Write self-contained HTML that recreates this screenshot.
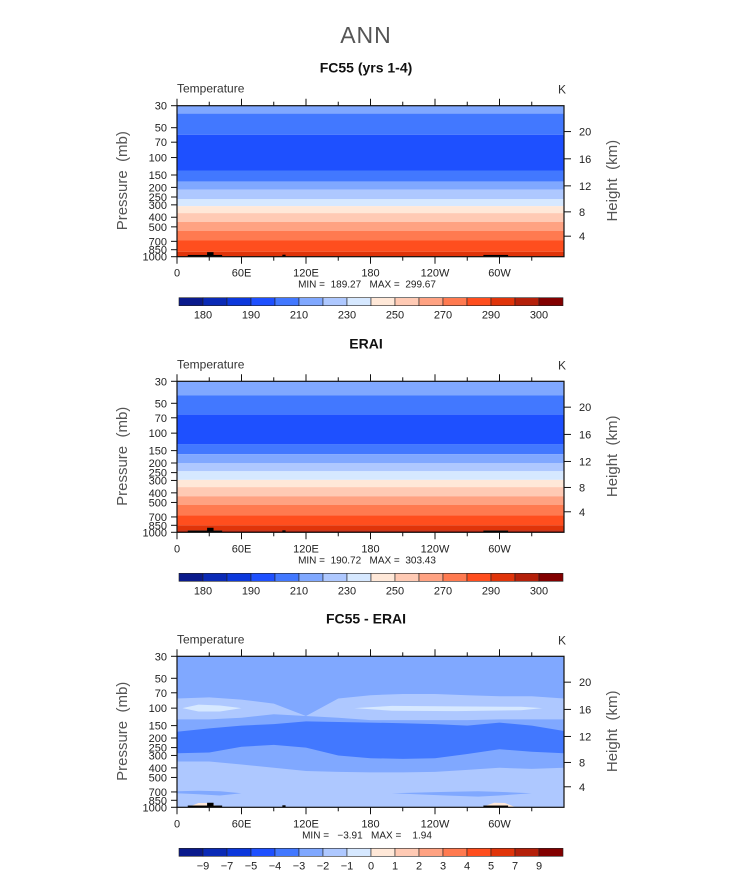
<!DOCTYPE html>
<html><head><meta charset="utf-8">
<style>
html,body{margin:0;padding:0;background:#fff;}
svg{display:block;font-family:"Liberation Sans","DejaVu Sans",sans-serif;}
</style></head>
<body>
<svg id="fig" width="733" height="872" viewBox="0 0 733 872" xmlns="http://www.w3.org/2000/svg">
<text x="366" y="43" font-size="23" text-anchor="middle" fill="#555" font-weight="normal" style="letter-spacing:1px">ANN</text>
</svg>
<script>
// ----- data -----
const palette = ["#0a1a8c","#0a2ab6","#0c38dc","#1e50ff","#4278ff","#80a8ff","#aec8ff","#d6e8ff","#ffe8d8","#ffcab4","#ffa282","#ff7a50","#ff4e1e","#e0340a","#b4200a","#820000"];
const tempLabels = ["180","190","210","230","250","270","290","300"];
const tempLabelSlots = [1,3,5,7,9,11,13,15];
const diffLabels = ["-9","-7","-5","-4","-3","-2","-1","0","1","2","3","4","5","7","9"];
const diffLabelSlots = [1,2,3,4,5,6,7,8,9,10,11,12,13,14,15];
const pTicks = [30,50,70,100,150,200,250,300,400,500,700,850,1000];
const hTicks = ["20","16","12","8","4"];
const hTickP = [54.7,103,193,353,621];
const lonLabels = ["0","60E","120E","180","120W","60W"];
const lonLabelVals = [0,60,120,180,240,300];
// panel 1 (FC55) flat band boundaries (pressure) and colour indices
const p1Bounds = [30,36,59,135,175,211,262,309,363,446,551,686,890,1000];
const p1Colors = [5,4,3,4,5,6,7,8,9,10,11,12,13];
// panel 2 (ERAI)
const p2Bounds = [30,41.7,65,130,163,200,242,296,350,433,531,673,849,957,1000];
const p2Colors = [5,4,3,4,5,6,7,8,9,10,11,12,13,14];
// panel 3 (difference) wavy bands
const lons = [0,30,60,90,120,150,180,210,240,270,300,330,360];
const upTop = [80,78,82,90,120,80,74,72,72,74,76,76,80];
const upBot = [130,130,125,115,120,125,132,132,132,132,130,130,130];
const darkTop = [173,160,150,145,136,138,140,142,145,150,140,150,170];
const darkBot = [285,280,245,235,250,300,320,325,320,290,260,275,285];
const lowTop = [345,345,370,400,430,440,445,445,440,420,400,410,400];
const pocketLonsA = [5,20,40,60];
const pocketTopA = [100,92,94,100];
const pocketBotA = [100,108,108,100];
const pocketLonsB = [165,200,260,320,340];
const pocketTopB = [100,95,96,97,100];
const pocketBotB = [100,106,107,105,100];
const streakLons = [0,20,40,60,200,250,280,300,330];
const streakTop = [690,680,690,720,720,700,690,700,720];
const streakBot = [720,740,760,720,720,760,780,760,720];
const warmLonsA = [10,20,30,40];
const warmTopA = [1000,905,905,1000];
const warmLonsB = [283,295,305,315];
const warmTopB = [1000,900,905,1000];
const topoLon = [[10,42],[28,34],[98,101],[285,308]];
const topoP = [[960,1000],[900,1000],[955,1000],[960,1000]];

const svg = document.getElementById('fig');
const NS = "http://www.w3.org/2000/svg";
const X0 = 177, X1 = 564;
function xs(lon){return X0 + (X1-X0)*lon/360;}
function mk(tag, attrs, parent){const e=document.createElementNS(NS,tag);for(const k in attrs)e.setAttribute(k,attrs[k]);(parent||svg).appendChild(e);return e;}
function txt(s,x,y,size,anchor,parent,extra){const t=mk('text',Object.assign({x:x,y:y,'font-size':size,'text-anchor':anchor||'start',fill:'#222'},extra||{}),parent);t.textContent=s;return t;}

function band(g, ys, lonArr, topArr, botArr, color){
  let pts=[];
  for(let i=0;i<lonArr.length;i++) pts.push(xs(lonArr[i]).toFixed(1)+','+ys(topArr[i]).toFixed(1));
  for(let i=lonArr.length-1;i>=0;i--) pts.push(xs(lonArr[i]).toFixed(1)+','+ys(botArr[i]).toFixed(1));
  const p=mk('polygon',{points:pts.join(' '),fill:color},g);
  
  
  return p;
}

function panel(top, title, minmax, labels, slots, fillFn){
  const bot = top+151;
  const ys = p => top + (bot-top)*Math.log(p/30)/Math.log(1000/30);
  const g = mk('g',{});  
  const t1=txt(title,366,top-33,14,'middle',g,{fill:'#111','font-weight':'bold'});  
  const t2=txt('Temperature',177,top-13,12,'start',g,{fill:'#333'});  
  const t3=txt('K',558,top-12,12,'start',g,{fill:'#333'});  
  const plot = mk('g',{},g);  
  fillFn(plot, ys);
  for(let i=0;i<topoLon.length;i++){
    const r=mk('rect',{x:xs(topoLon[i][0]),y:ys(topoP[i][0]),width:xs(topoLon[i][1])-xs(topoLon[i][0]),height:ys(topoP[i][1])-ys(topoP[i][0]),fill:'#000'},plot);
     
  }
  const fr=mk('rect',{x:X0,y:top,width:X1-X0,height:bot-top,fill:'none',stroke:'#111','stroke-width':1.2},g);
   
  for(let lon=0;lon<360;lon+=30){
    const L = lon%60===0?7:4;
    mk('line',{x1:xs(lon),x2:xs(lon),y1:top,y2:top-L,stroke:'#111','stroke-width':1},g);
    mk('line',{x1:xs(lon),x2:xs(lon),y1:bot,y2:bot+L,stroke:'#111','stroke-width':1},g);
  }
  for(let i=0;i<lonLabels.length;i++){const t=txt(lonLabels[i],xs(lonLabelVals[i]),bot+20,11,'middle',g);  }
  for(const p of pTicks){
    mk('line',{x1:X0,x2:X0-6,y1:ys(p),y2:ys(p),stroke:'#111'},g);
    const t=txt(String(p),X0-10,ys(p)+4,11,'end',g);  
  }
  for(let i=0;i<hTicks.length;i++){
    const y=ys(hTickP[i]);
    mk('line',{x1:X1,x2:X1+7,y1:y,y2:y,stroke:'#111'},g);
    const t=txt(hTicks[i],X1+15,y+4,11,'start',g);  
  }
  const yl=txt('Pressure  (mb)',0,0,15,'middle',g,{transform:`translate(127,${top+75}) rotate(-90)`,fill:'#555',style:'white-space:pre'});  
  const hl=txt('Height  (km)',0,0,15,'middle',g,{transform:`translate(617,${top+75}) rotate(-90)`,fill:'#555',style:'white-space:pre'});  
  const mm=txt(minmax,367,bot+31,10,'middle',g,{style:'white-space:pre'});  
  const cb=mk('g',{},g);  
  const cy=bot+41, bw=24;
  for(let i=0;i<16;i++){const r=mk('rect',{x:179+i*bw,y:cy,width:bw,height:8,fill:palette[i],stroke:'#222','stroke-width':0.6},cb);  }
  for(let i=0;i<labels.length;i++){const t=txt(labels[i].replace('-','\u2212'),179+slots[i]*bw,cy+21,11,'middle',cb);  }
}

function flat(bounds, colors){
  return (g,ys)=>{for(let i=0;i<colors.length;i++) band(g,ys,[0,360],[bounds[i],bounds[i]],[bounds[i+1],bounds[i+1]],palette[colors[i]]);};
}
panel(105.7,'FC55 (yrs 1-4)','MIN =  189.27   MAX =  299.67',tempLabels,tempLabelSlots,flat(p1Bounds,p1Colors));
panel(381.3,'ERAI','MIN =  190.72   MAX =  303.43',tempLabels,tempLabelSlots,flat(p2Bounds,p2Colors));
panel(656.3,'FC55 - ERAI','MIN =   \u22123.91   MAX =    1.94',diffLabels,diffLabelSlots,(g,ys)=>{
  const n=lons.length, c30=new Array(n).fill(30), c1000=new Array(n).fill(1000);
  band(g,ys,lons,c30,c1000,palette[5]);
  band(g,ys,lons,upTop,upBot,palette[6]);
  band(g,ys,pocketLonsA,pocketTopA,pocketBotA,palette[7]);
  band(g,ys,pocketLonsB,pocketTopB,pocketBotB,palette[7]);
  band(g,ys,lons,darkTop,darkBot,palette[4]);
  band(g,ys,lons,lowTop,c1000,palette[6]);
  band(g,ys,streakLons,streakTop,streakBot,palette[5]);
  band(g,ys,warmLonsA,warmTopA,warmLonsA.map(()=>1000),palette[8]);
  band(g,ys,warmLonsB,warmTopB,warmLonsB.map(()=>1000),palette[8]);
});
</script>
</body></html>
